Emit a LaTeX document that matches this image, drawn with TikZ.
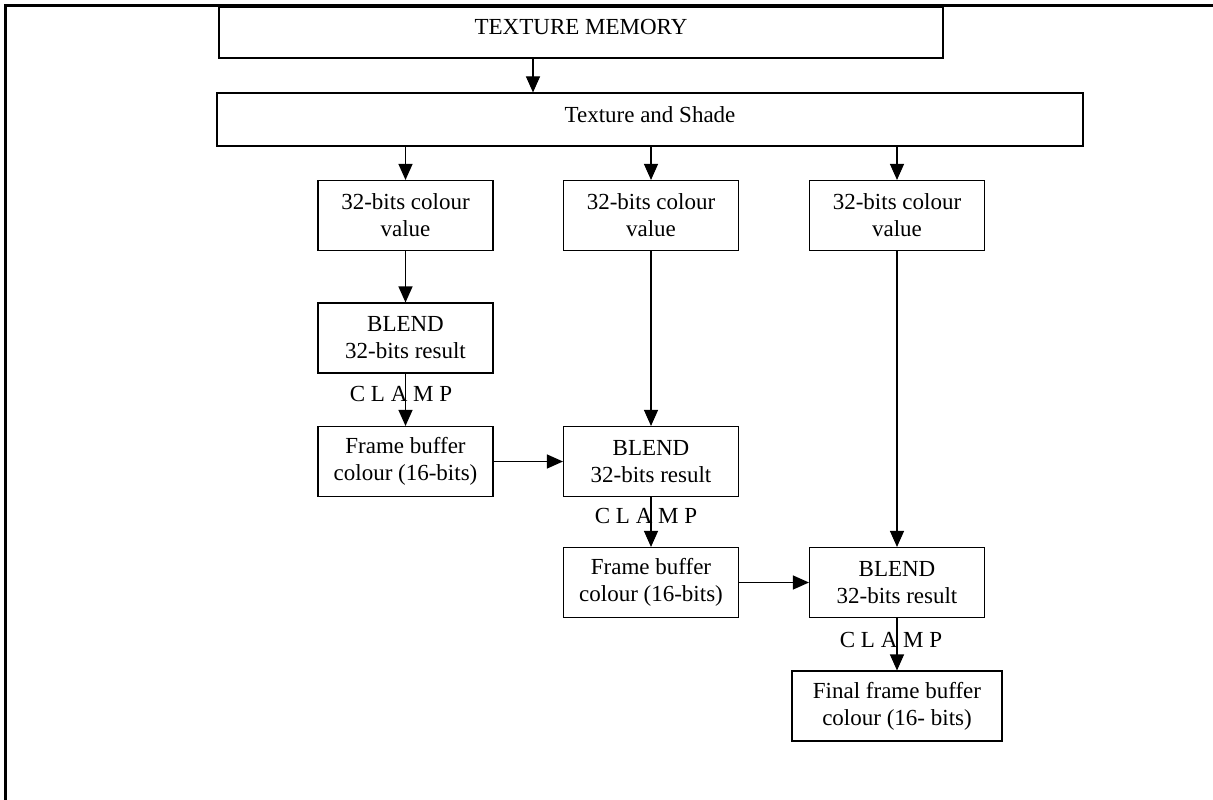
\documentclass[tikz,border=0pt]{standalone}
\usepackage{fontspec}
\setmainfont{Liberation Serif}
\usetikzlibrary{
    arrows.meta,
    positioning
}
\tikzset{
    blk/.style={draw, line width=1.1pt, rectangle, inner sep=0pt, align=center,
        minimum width=175pt, minimum height=70pt},
    arr/.style={line width=1.1pt, -{Triangle[width=14pt, length=16pt]}},
    clamp/.style={inner sep=0pt}
}

\begin{document}
\begin{tikzpicture}[x=1pt, y=-1pt, font=\fontsize{23}{27}\selectfont]
    \useasboundingbox (0,0) rectangle (1213,800);
    \draw[line width=3pt] (5,800) -- (5,6) -- (1213,6);

    \node[blk, minimum width=724pt, minimum height=51pt, text depth=11pt] (tm) at (581,32.5) {TEXTURE MEMORY};
    \node[blk, minimum width=866pt, minimum height=53pt, text depth=10pt] (ts) at (650,119.5) {Texture and Shade};

    \node[blk] (col1) at (405.5,215.5) {32-bits colour\\value};
    \node[blk] (col2) at (651,215.5) {32-bits colour\\value};
    \node[blk] (col3) at (897,215.5) {32-bits colour\\value};

    \node[blk] (blend1) at (405.5,338) {BLEND\\32-bits result};
    \node[blk] (fb1) at (405.5,461.5) {Frame buffer\\colour (16-bits)};
    \node[blk] (blend2) at (651,461.5) {BLEND\\32-bits result};
    \node[blk] (fb2) at (651,582.5) {Frame buffer\\colour (16-bits)};
    \node[blk] (blend3) at (897,582.5) {BLEND\\32-bits result};
    \node[blk, minimum width=210pt] (final) at (897,706) {Final frame buffer\\colour (16- bits)};

    \node[clamp] (cl1) at (401,394) {C L A M P};
    \node[clamp] (cl2) at (646,516) {C L A M P};
    \node[clamp] (cl3) at (891,640) {C L A M P};

    \coordinate (tmout) at ([xshift=-48pt]tm.south);
    \draw[arr] (tmout) -- (tmout |- ts.north);
    \draw[arr] (ts.south -| col1.north) -- (col1.north);
    \draw[arr] (ts.south -| col2.north) -- (col2.north);
    \draw[arr] (ts.south -| col3.north) -- (col3.north);

    \draw[arr] (col1) -- (blend1);
    \draw[arr] (blend1) -- (fb1);
    \draw[arr] (col2) -- (blend2);
    \draw[arr] (fb1) -- (blend2);
    \draw[arr] (blend2) -- (fb2);
    \draw[arr] (col3) -- (blend3);
    \draw[arr] (fb2) -- (blend3);
    \draw[arr] (blend3) -- (final);
\end{tikzpicture}
\end{document}
